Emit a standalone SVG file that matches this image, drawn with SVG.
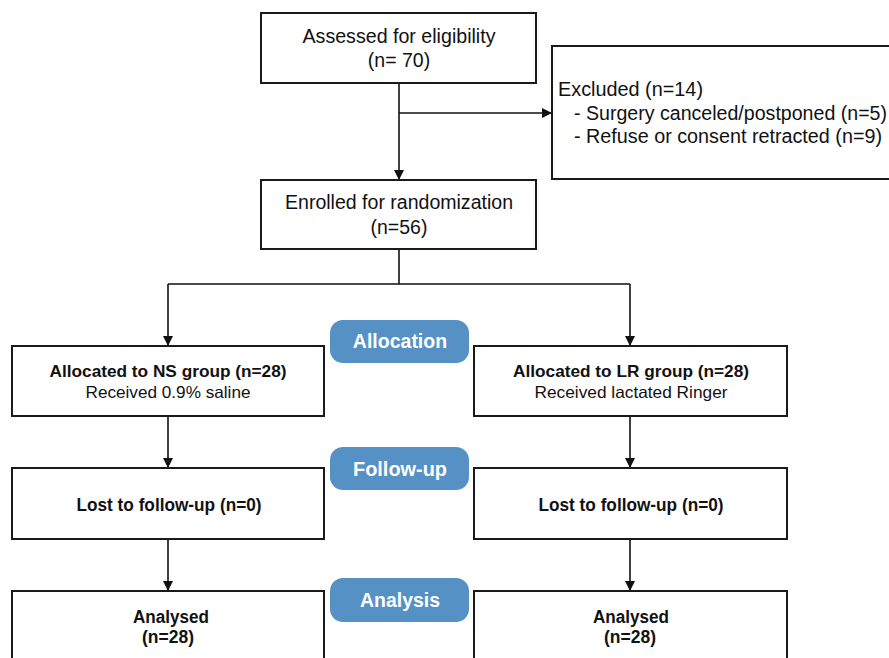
<svg xmlns="http://www.w3.org/2000/svg" width="889" height="658" viewBox="0 0 889 658">
<style>
.box{fill:#fff;stroke:#1a1a1a;stroke-width:2}
.pill{fill:#5591c5}
.t{font-family:"Liberation Sans",Arial,sans-serif;fill:#111;text-anchor:middle}
.r19{font-size:19.5px}
.b16{font-size:16.5px;font-weight:bold}
.b18{font-size:18px;font-weight:bold}
.r16{font-size:16.5px}
.pt{font-family:"Liberation Sans",Arial,sans-serif;font-size:19.5px;font-weight:bold;fill:#fff;text-anchor:middle}
.ln{fill:none;stroke:#111;stroke-width:1.6}
</style>
<defs>
<marker id="ah" viewBox="0 0 10 10" refX="10" refY="5" markerWidth="10" markerHeight="10" markerUnits="userSpaceOnUse" orient="auto">
<path d="M0,0 L10,5 L0,10 z" fill="#111"/>
</marker>
</defs>
<g id="connectors">
<path class="ln" d="M399,83 V180" marker-end="url(#ah)"/>
<path class="ln" d="M399,113 H552" marker-end="url(#ah)"/>
<path class="ln" d="M399,249 V284 M168,284 H630"/>
<path class="ln" d="M168,284 V346" marker-end="url(#ah)"/>
<path class="ln" d="M630,284 V346" marker-end="url(#ah)"/>
<path class="ln" d="M168,416 V468" marker-end="url(#ah)"/>
<path class="ln" d="M630,416 V468" marker-end="url(#ah)"/>
<path class="ln" d="M168,539 V591" marker-end="url(#ah)"/>
<path class="ln" d="M630,539 V591" marker-end="url(#ah)"/>
</g>
<g id="assessed">
<rect class="box" x="261" y="13" width="275" height="70"/>
<text class="t r19" x="399" y="43" textLength="193" lengthAdjust="spacingAndGlyphs">Assessed for eligibility</text>
<text class="t r19" x="399" y="67">(n= 70)</text>
</g>
<g id="excluded">
<rect class="box" x="552" y="46" width="340" height="133"/>
<text class="t r19" x="558" y="96" style="text-anchor:start" textLength="145" lengthAdjust="spacingAndGlyphs">Excluded (n=14)</text>
<text class="t r19" x="574" y="120" style="text-anchor:start" textLength="313" lengthAdjust="spacingAndGlyphs">- Surgery canceled/postponed (n=5)</text>
<text class="t r19" x="574" y="143" style="text-anchor:start" textLength="308" lengthAdjust="spacingAndGlyphs">- Refuse or consent retracted (n=9)</text>
</g>
<g id="enrolled">
<rect class="box" x="261" y="180" width="275" height="69"/>
<text class="t r19" x="399" y="209" textLength="228" lengthAdjust="spacingAndGlyphs">Enrolled for randomization</text>
<text class="t r19" x="399" y="234">(n=56)</text>
</g>
<g id="allocation">
<rect class="pill" x="330" y="320" width="139" height="43" rx="13"/>
<text class="pt" x="400" y="348">Allocation</text>
</g>
<g id="ns-group">
<rect class="box" x="12" y="346" width="312" height="70"/>
<text class="t b16" x="168" y="377" textLength="237" lengthAdjust="spacingAndGlyphs">Allocated to NS group (n=28)</text>
<text class="t r16" x="168" y="398" textLength="165" lengthAdjust="spacingAndGlyphs">Received 0.9% saline</text>
</g>
<g id="lr-group">
<rect class="box" x="474" y="346" width="313" height="70"/>
<text class="t b16" x="631" y="377" textLength="236" lengthAdjust="spacingAndGlyphs">Allocated to LR group (n=28)</text>
<text class="t r16" x="631" y="398" textLength="193" lengthAdjust="spacingAndGlyphs">Received lactated Ringer</text>
</g>
<g id="followup">
<rect class="pill" x="330" y="447" width="139" height="43" rx="13"/>
<text class="pt" x="400" y="476" textLength="94" lengthAdjust="spacingAndGlyphs">Follow-up</text>
</g>
<g id="ns-lost">
<rect class="box" x="12" y="468" width="312" height="71"/>
<text class="t b18" x="169" y="511" textLength="185" lengthAdjust="spacingAndGlyphs">Lost to follow-up (n=0)</text>
</g>
<g id="lr-lost">
<rect class="box" x="474" y="468" width="313" height="71"/>
<text class="t b18" x="631" y="511" textLength="185" lengthAdjust="spacingAndGlyphs">Lost to follow-up (n=0)</text>
</g>
<g id="analysis">
<rect class="pill" x="330" y="578" width="139" height="44" rx="13"/>
<text class="pt" x="400" y="607" textLength="80" lengthAdjust="spacingAndGlyphs">Analysis</text>
</g>
<g id="ns-analysed">
<rect class="box" x="12" y="591" width="312" height="80"/>
<text class="t b18" x="171" y="623" textLength="76" lengthAdjust="spacingAndGlyphs">Analysed</text>
<text class="t b18" x="168" y="643" textLength="52" lengthAdjust="spacingAndGlyphs">(n=28)</text>
</g>
<g id="lr-analysed">
<rect class="box" x="474" y="591" width="313" height="80"/>
<text class="t b18" x="631" y="623" textLength="76" lengthAdjust="spacingAndGlyphs">Analysed</text>
<text class="t b18" x="630" y="643" textLength="52" lengthAdjust="spacingAndGlyphs">(n=28)</text>
</g>
</svg>
